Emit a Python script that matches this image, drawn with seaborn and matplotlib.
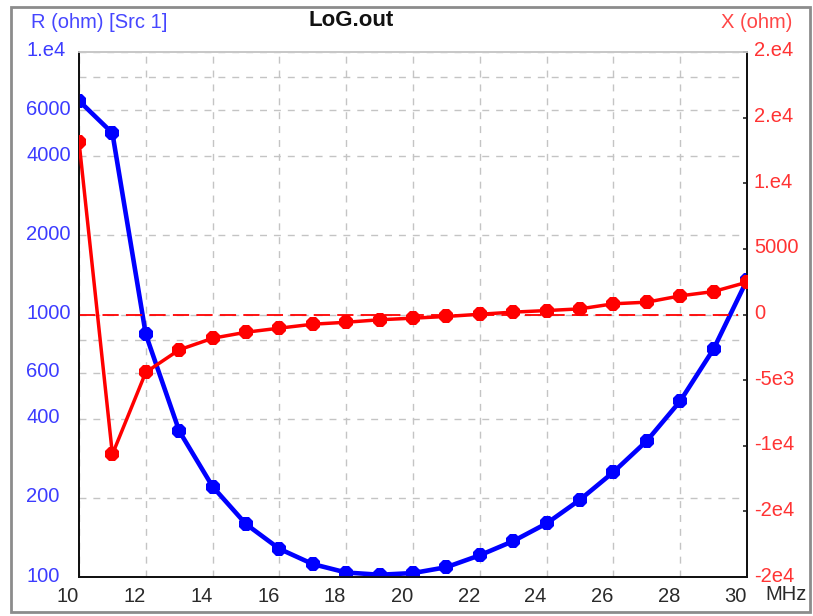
import matplotlib
matplotlib.use("Agg")
import matplotlib.pyplot as plt
import matplotlib.transforms as mtransforms
from matplotlib.patches import Rectangle
from matplotlib.ticker import NullLocator
import pandas as pd
import seaborn as sns

# frequency sweep, MHz
freq_mhz = list(range(10, 31))
# resistance (left, log axis)
r_ohm = [6520, 4910, 840, 360, 221, 159, 128, 112, 104, 102, 103.5,
         109, 121, 137, 160, 197, 251, 330, 468, 739, 1353]
# reactance (right, linear axis)
x_ohm = [13180, -10650, -4400, -2690, -1810, -1350, -1040, -740, -590, -400, -280,
         -150, 20, 180, 300, 430, 815, 940, 1420, 1750, 2460]

freq_ticks = list(range(10, 31, 2))
r_ticks = [100, 200, 400, 600, 800, 1000, 2000, 4000, 6000, 8000, 10000]
r_tick_labels = ["100", "200", "400", "600", "", "1000", "2000", "4000", "6000", "", "1.e4"]
x_ticks = [-20000, -15000, -10000, -5000, 0, 5000, 10000, 15000, 20000]
x_tick_labels = ["-2e4", "-2e4", "-1e4", "-5e3", "0", "5000", "1.e4", "2.e4", "2.e4"]

sns.set_style("white")
plt.rcParams['font.family'] = ['Liberation Sans', 'DejaVu Sans']

df = pd.DataFrame({'freq': freq_mhz, 'R': r_ohm, 'X': x_ohm})

W, H = 813, 616
fig = plt.figure(figsize=(W / 100, H / 100), dpi=100)
ax = fig.add_axes([79 / W, 1 - 577 / H, (747 - 79) / W, (577 - 52) / H])

blue = '#0000ff'
red = '#ff0000'
fs = 14.5

sns.lineplot(data=df, x='freq', y='R', ax=ax, color=blue, lw=3.3,
             marker='8', markersize=11, markeredgewidth=0, zorder=3)
ax.set_yscale('log')
ax.set_xlim(10, 30)
ax.set_ylim(100, 10000)
ax.set_yticks(r_ticks)
ax.set_yticklabels(r_tick_labels)
ax.yaxis.set_minor_locator(NullLocator())
ax.set_xticks(freq_ticks)
ax.set_xticklabels([str(f) for f in freq_ticks])
for lbl in ax.get_xticklabels():
    lbl.set_ha('right')
ax.grid(True, color='#c4c4c4', linestyle=(0, (5, 5)), lw=1)
ax.tick_params(axis='y', length=0, pad=38, labelcolor='#3c3cff', labelsize=fs)
up = mtransforms.ScaledTranslation(0, 3 / 100, fig.dpi_scale_trans)
for lbl in ax.get_yticklabels():
    lbl.set_ha('left')
    lbl.set_transform(lbl.get_transform() + up)
ax.tick_params(axis='x', length=0, pad=7, labelcolor='#2a2a2a', labelsize=fs)
ax.set_xlabel('')
ax.set_ylabel('')

ax2 = ax.twinx()
sns.lineplot(data=df, x='freq', y='X', ax=ax2, color=red, lw=2.5,
             marker='8', markersize=11, markeredgewidth=0, zorder=3)
ax2.set_ylim(-20000, 20000)
ax2.set_yticks(x_ticks)
ax2.set_yticklabels(x_tick_labels)
ax2.tick_params(axis='y', direction='in', length=3, width=1.2, pad=5,
                labelcolor='#ff3333', labelsize=fs)
for lbl in ax2.get_yticklabels():
    lbl.set_transform(lbl.get_transform() + up)
ax2.axhline(0, xmax=0.9865, color=red, lw=1.3, linestyle=(0, (9, 4)), zorder=2)
ax2.set_ylabel('')

for a in (ax, ax2):
    for side in ('left', 'right', 'bottom'):
        a.spines[side].set_color('#111111')
        a.spines[side].set_linewidth(1.3)
    a.spines['top'].set_color('#c8c8c8')
    a.spines['top'].set_linewidth(1.3)

fig.text(31 / W, 1 - 23 / H, "R (ohm) [Src 1]", color='#4646ff', fontsize=fs,
         ha='left', va='center')
fig.text(351 / W, 1 - 21 / H, "LoG.out", color='#111111', fontsize=16,
         weight='bold', ha='center', va='center')
fig.text(792 / W, 1 - 23 / H, "X (ohm)", color='#ff4646', fontsize=fs,
         ha='right', va='center')
fig.text(765 / W, 1 - 595 / H, "MHz", color='#2a2a2a', fontsize=fs,
         ha='left', va='center')

# outer window frame
fig.patches.append(Rectangle((11 / W, 1 - 612 / H), (810 - 11) / W, (612 - 7) / H,
                             transform=fig.transFigure, fill=False,
                             edgecolor='#8c8c8c', lw=2))

fig.savefig('out.png', dpi=100)
